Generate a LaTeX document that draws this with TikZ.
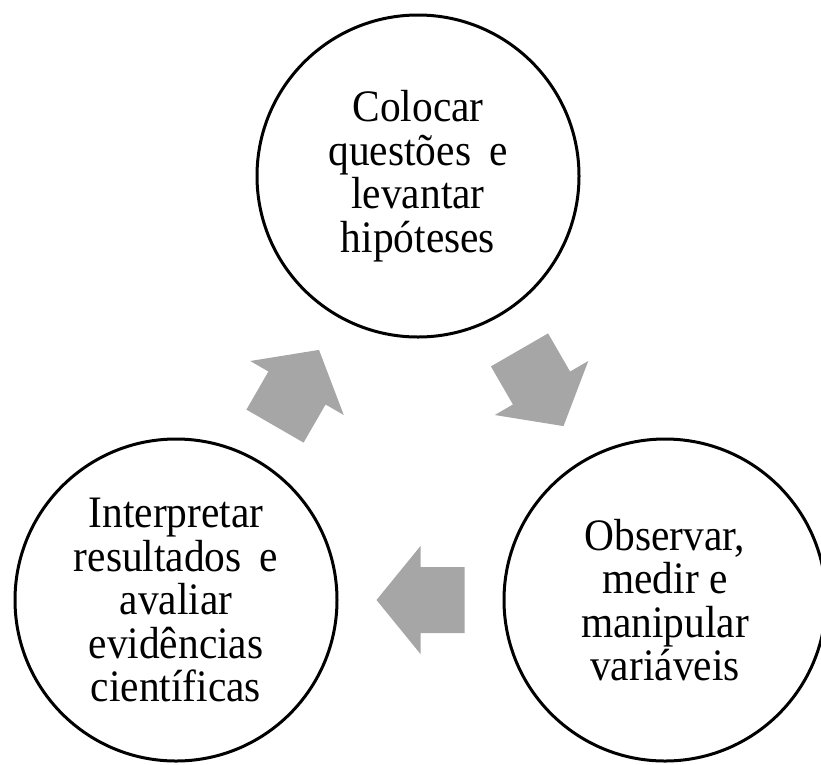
\documentclass[tikz,border=0pt]{standalone}
\usepackage{fontspec}
\setmainfont{Liberation Serif}
\newfontfamily\condserif[FakeStretch=0.92]{Liberation Serif}
\usetikzlibrary{calc}
\definecolor{arrowgray}{HTML}{A6A6A6}
\tikzset{
  stage/.style={circle, draw=black, line width=3pt, minimum size=322pt, inner sep=0pt,
    align=center, font=\condserif\fontsize{45}{43.5}\selectfont},
  blockarrow/.style={fill=arrowgray, draw=none}
}
\newcommand{\blockarrowpath}{(44,0) -- (0,54) -- (0,33) -- (-44,33) -- (-44,-33) -- (0,-33) -- (0,-54) -- cycle}
\begin{document}
\begin{tikzpicture}[x=1pt, y=-1pt]
\useasboundingbox (0,0) rectangle (821,764);
\node[stage] (top) at (418,176) {Colocar\\questões\hspace{0.4em}e\\levantar\\hipóteses};
\node[stage] (left) at (176,600) {Interpretar\\resultados\hspace{0.4em}e\\avaliar\\evidências\\científicas};
\node[stage] (right) at (665,600) {Observar,\\medir e\\manipular\\variáveis};
\coordinate (a1) at ($(top)!0.5!(right)$);
\coordinate (a2) at ($(right)!0.5!(left)$);
\coordinate (a3) at ($(left)!0.5!(top)$);
\fill[blockarrow, shift={(a1)}, rotate=-60] \blockarrowpath;
\fill[blockarrow, shift={(a2)}, rotate=180] \blockarrowpath;
\fill[blockarrow, shift={(a3)}, rotate=60] \blockarrowpath;
\end{tikzpicture}
\end{document}
